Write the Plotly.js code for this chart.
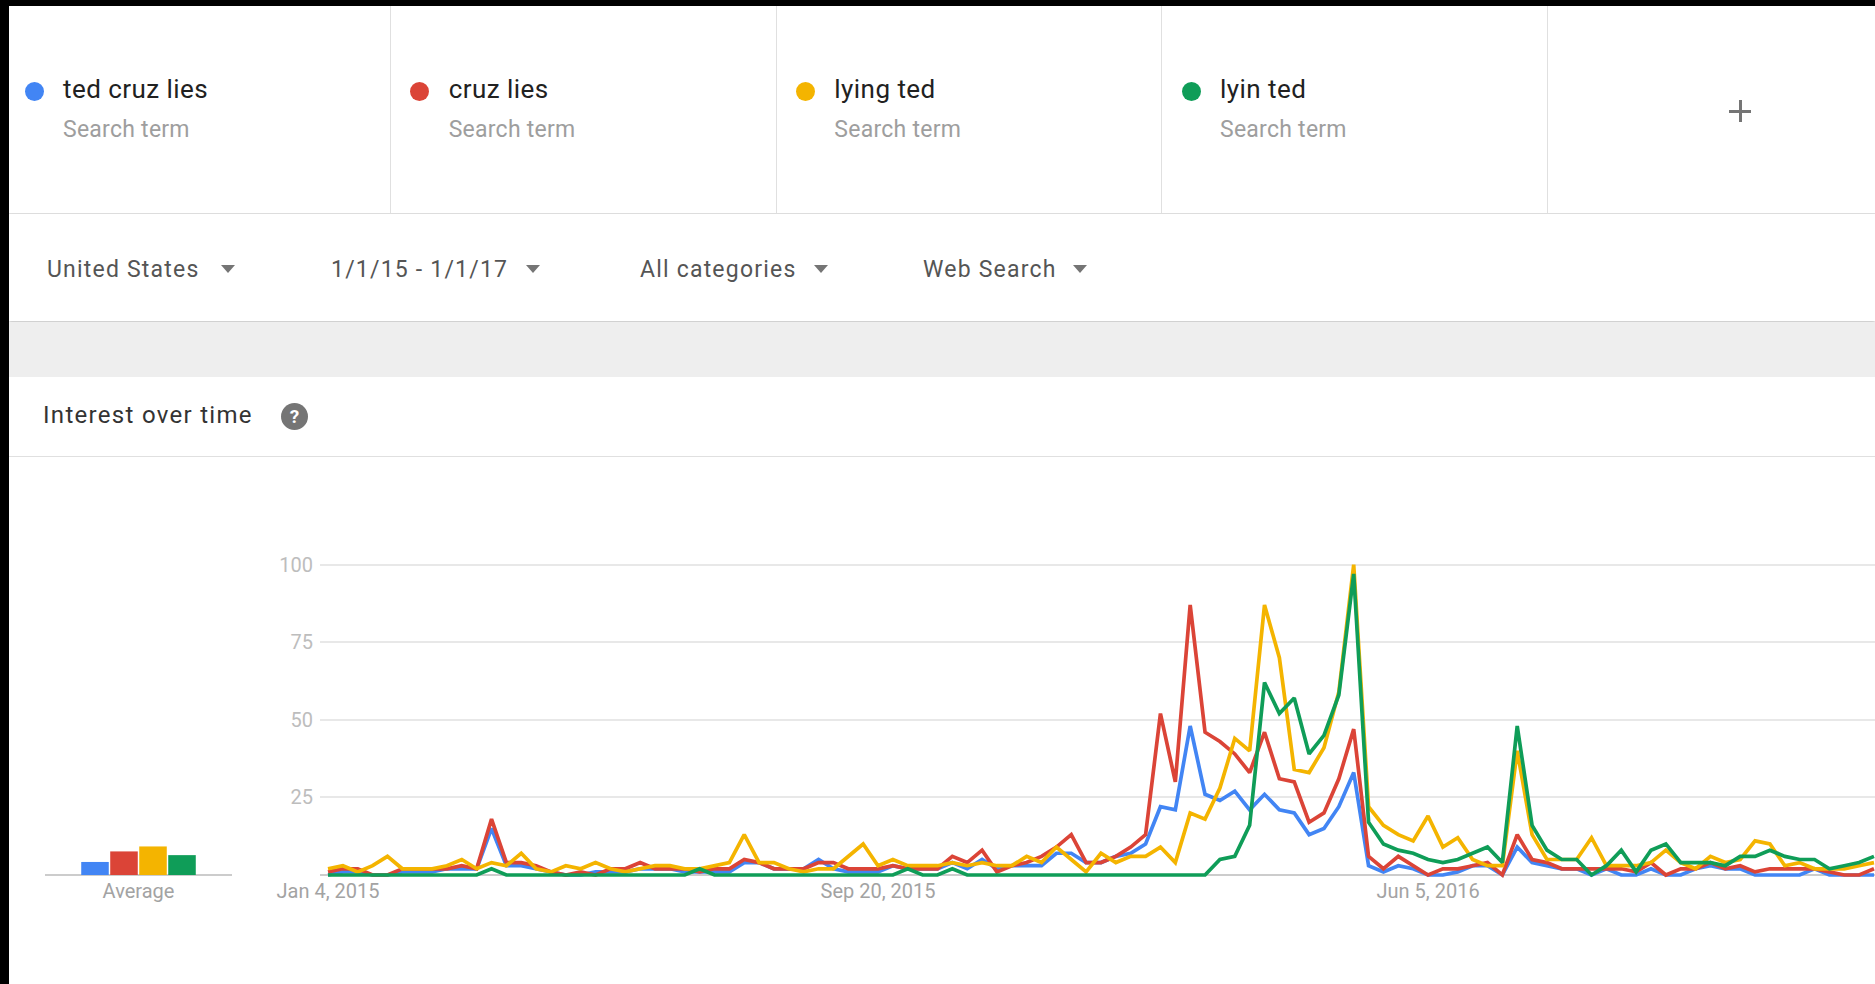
<!DOCTYPE html>
<html>
<head>
<meta charset="utf-8">
<script src="https://cdn.plot.ly/plotly-3.0.1.min.js"></script>
<style>
  html, body { margin:0; padding:0; }
  body { width:1875px; height:984px; overflow:hidden; position:relative; background:#000; font-family: Roboto, "Noto Sans", sans-serif; }
  .abs { position:absolute; }
  .panel { left:9px; top:6px; width:1866px; height:978px; background:#fff; }
  .vdiv { top:6px; width:1px; height:207px; background:#e0e0e0; }
  .dot { width:19px; height:19px; border-radius:50%; top:81.5px; }
  .term { font-size:26px; line-height:26px; letter-spacing:0.45px; color:#212121; top:76px; white-space:nowrap; }
  .sub { font-size:23px; line-height:23px; letter-spacing:0.25px; color:#9e9e9e; top:118px; white-space:nowrap; }
  .filt { font-size:23px; line-height:23px; letter-spacing:1.2px; color:#555; top:258px; white-space:nowrap; }
  .tri { width:0; height:0; border-left:7px solid transparent; border-right:7px solid transparent; border-top:8px solid #757575; top:265px; }
  #chart { position:absolute; left:0; top:0; width:1875px; height:984px; }
</style>
</head>
<body>
<div class="abs panel"></div>
<!-- search term cards -->
<div class="abs vdiv" style="left:390px"></div>
<div class="abs vdiv" style="left:776px"></div>
<div class="abs vdiv" style="left:1161px"></div>
<div class="abs vdiv" style="left:1547px"></div>
<div class="abs" style="left:9px;top:213px;width:1866px;height:1px;background:#e0e0e0"></div>
<div id="cards"></div>
<div class="abs" style="left:1729px;top:109.5px;width:22px;height:3px;background:#757575"></div>
<div class="abs" style="left:1738.5px;top:100px;width:3px;height:22px;background:#757575"></div>
<!-- filters -->
<div class="abs" style="left:9px;top:214px;width:1866px;height:107px;background:#fff;box-shadow:0 2px 3px rgba(0,0,0,0.22)"></div>
<div class="abs" style="left:9px;top:322px;width:1866px;height:55px;background:#eeeeee"></div>
<div id="filters"></div>
<!-- section header -->
<div class="abs" style="left:43px;top:403px;font-size:24px;line-height:24px;letter-spacing:1.3px;color:#333;white-space:nowrap">Interest over time</div>
<div class="abs" style="left:281px;top:403px;width:27px;height:27px;border-radius:50%;background:#757575;color:#fff;font-size:19px;font-weight:bold;line-height:27px;text-align:center">?</div>
<div class="abs" style="left:9px;top:456px;width:1866px;height:1px;background:#e0e0e0"></div>

<div id="chart"></div>
<script>
// ---- data ----
const terms = ['ted cruz lies', 'cruz lies', 'lying ted', 'lyin ted'];
const colors = ['#4285f4', '#db4437', '#f4b400', '#0f9d58'];
const filterLabels = ['United States', '1/1/15 - 1/1/17', 'All categories', 'Web Search'];

const weeks = [
 '2015-01-04','2015-01-11','2015-01-18','2015-01-25','2015-02-01','2015-02-08','2015-02-15','2015-02-22',
 '2015-03-01','2015-03-08','2015-03-15','2015-03-22','2015-03-29','2015-04-05','2015-04-12','2015-04-19','2015-04-26',
 '2015-05-03','2015-05-10','2015-05-17','2015-05-24','2015-05-31','2015-06-07','2015-06-14','2015-06-21','2015-06-28',
 '2015-07-05','2015-07-12','2015-07-19','2015-07-26','2015-08-02','2015-08-09','2015-08-16','2015-08-23','2015-08-30',
 '2015-09-06','2015-09-13','2015-09-20','2015-09-27','2015-10-04','2015-10-11','2015-10-18','2015-10-25',
 '2015-11-01','2015-11-08','2015-11-15','2015-11-22','2015-11-29','2015-12-06','2015-12-13','2015-12-20','2015-12-27',
 '2016-01-03','2016-01-10','2016-01-17','2016-01-24','2016-01-31','2016-02-07','2016-02-14','2016-02-21','2016-02-28',
 '2016-03-06','2016-03-13','2016-03-20','2016-03-27','2016-04-03','2016-04-10','2016-04-17','2016-04-24',
 '2016-05-01','2016-05-08','2016-05-15','2016-05-22','2016-05-29','2016-06-05','2016-06-12','2016-06-19','2016-06-26',
 '2016-07-03','2016-07-10','2016-07-17','2016-07-24','2016-07-31','2016-08-07','2016-08-14','2016-08-21','2016-08-28',
 '2016-09-04','2016-09-11','2016-09-18','2016-09-25','2016-10-02','2016-10-09','2016-10-16','2016-10-23','2016-10-30',
 '2016-11-06','2016-11-13','2016-11-20','2016-11-27','2016-12-04','2016-12-11','2016-12-18','2016-12-25','2017-01-01'
];

const tedCruzLies = [
 0,1,1,0,0,1,1,1,2,2,
 2,15,3,3,2,1,0,0,1,1,
 1,2,2,2,1,1,1,1,4,4,
 2,2,2,5,2,1,1,1,3,2,
 2,2,4,2,5,2,3,3,3,
 7,7,4,4,6,7,10,22,21,48,26,
 24,27,21,26,21,20,13,15,22,33,
 3,1,3,2,0,0,1,3,3,0,
 9,4,3,2,2,0,2,0,0,2,
 0,0,2,3,2,2,0,0,0,0,
 2,0,0,0,0
];
const cruzLies = [
 1,2,2,0,0,2,2,2,2,3,
 2,18,4,4,3,1,0,1,0,2,
 2,4,2,2,2,1,2,2,5,4,
 2,2,2,4,4,2,2,2,3,2,
 2,2,6,4,8,1,3,4,6,
 9,13,4,4,6,9,13,52,30,87,46,
 43,39,33,46,31,30,17,20,31,47,
 6,2,6,3,0,2,2,3,4,0,
 13,5,4,2,2,2,2,2,1,4,
 0,2,2,4,2,3,1,2,2,2,
 2,1,0,0,2
];
const lyingTed = [
 2,3,1,3,6,2,2,2,3,5,
 2,4,3,7,2,1,3,2,4,2,
 1,2,3,3,2,2,3,4,13,4,
 4,2,1,2,2,6,10,3,5,3,
 3,3,4,3,4,3,3,6,4,
 9,5,1,7,4,6,6,9,4,20,18,
 28,44,40,87,70,34,33,41,59,100,
 22,16,13,11,19,9,12,5,3,3,
 40,13,5,5,5,12,3,3,3,4,
 8,4,2,6,4,5,11,10,3,4,
 2,2,2,3,4
];
const lyinTed = [
 0,0,0,0,0,0,0,0,0,0,
 0,2,0,0,0,0,0,0,0,0,
 0,0,0,0,0,2,0,0,0,0,
 0,0,0,0,0,0,0,0,0,2,
 0,0,2,0,0,0,0,0,0,
 0,0,0,0,0,0,0,0,0,0,0,
 5,6,16,62,52,57,39,45,58,97,
 17,10,8,7,5,4,5,7,9,4,
 48,16,8,5,5,0,3,8,1,8,
 10,4,4,4,3,6,6,8,6,5,
 5,2,3,4,6
];
const averages = [4.2, 7.6, 9.2, 6.4];

const xTickVals = ['2015-01-04', '2015-09-20', '2016-06-05'];
const xTickText = ['Jan 4, 2015', 'Sep 20, 2015', 'Jun 5, 2016'];
const yTickVals = [25, 50, 75, 100];

// ---- header UI (cards & filters) ----
const cards = document.getElementById('cards');
terms.forEach((t, k) => {
  const off = k * 385.67;
  cards.insertAdjacentHTML('beforeend',
    `<div class="abs dot" style="left:${24.5 + off}px;background:${colors[k]}"></div>` +
    `<div class="abs term" style="left:${63 + off}px">${t}</div>` +
    `<div class="abs sub" style="left:${63 + off}px">Search term</div>`);
});
const filtX = [47, 331, 640, 923];
const triX = [228, 533, 821, 1080];
const filters = document.getElementById('filters');
filterLabels.forEach((f, k) => {
  filters.insertAdjacentHTML('beforeend',
    `<div class="abs filt" style="left:${filtX[k]}px">${f}</div>` +
    `<div class="abs tri" style="left:${triX[k] - 7}px"></div>`);
});

// ---- chart ----
const series = [tedCruzLies, cruzLies, lyingTed, lyinTed];
const W = 1875, H = 984;
const yDom = [(H - 880) / H, (H - 540) / H];
const yRange = [-1.611, 107.93];
const xAxisPos = (H - 875) / H;

const traces = series.map((s, k) => ({
  type: 'scatter', mode: 'lines', name: terms[k],
  x: weeks, y: s, xaxis: 'x', yaxis: 'y',
  line: { color: colors[k], width: 3.7, shape: 'linear' },
  hoverinfo: 'skip'
}));
traces.push({
  type: 'bar', x: terms.map((t, k) => k), y: averages,
  text: terms, textposition: 'none',
  marker: { color: colors, line: { width: 0 } },
  width: 0.95, xaxis: 'x2', yaxis: 'y2', hoverinfo: 'skip'
});

const tickFontX = { family: 'Roboto', size: 20, color: '#a3a3a3' };
const tickFontY = { family: 'Roboto', size: 20, color: '#bdbdbd' };

const layout = {
  width: W, height: H,
  margin: { l: 0, r: 0, t: 0, b: 0, pad: 0 },
  paper_bgcolor: 'rgba(0,0,0,0)', plot_bgcolor: 'rgba(0,0,0,0)',
  showlegend: false, hovermode: false,
  font: { family: 'Roboto' },
  xaxis: {
    type: 'date', domain: [320 / W, 1], anchor: 'free', position: xAxisPos,
    range: ['2014-12-31 05:35', '2017-01-01 11:31'],
    tickmode: 'array', tickvals: xTickVals, ticktext: xTickText,
    showgrid: false, zeroline: false, showline: false, ticks: '',
    tickfont: tickFontX, ticklabelstandoff: 2
  },
  yaxis: {
    domain: yDom, range: yRange, anchor: 'x',
    tickmode: 'array', tickvals: yTickVals,
    showgrid: true, gridcolor: '#e8e8e8', gridwidth: 2,
    zeroline: true, zerolinecolor: '#cccccc', zerolinewidth: 2,
    showline: false, ticks: '', tickfont: tickFontY, ticklabelstandoff: 6
  },
  xaxis2: {
    domain: [45 / W, 232 / W], anchor: 'free', position: xAxisPos,
    range: [-1.724, 4.724],
    tickmode: 'array', tickvals: [1.5], ticktext: ['Average'],
    showgrid: false, zeroline: false, showline: false, ticks: '',
    tickfont: tickFontX, ticklabelstandoff: 2
  },
  yaxis2: {
    domain: yDom, range: yRange, anchor: 'x2',
    showgrid: false, showticklabels: false, ticks: '',
    zeroline: true, zerolinecolor: '#cccccc', zerolinewidth: 2, showline: false
  }
};

Plotly.newPlot('chart', traces, layout, { staticPlot: true, displayModeBar: false });
</script>
</body>
</html>
